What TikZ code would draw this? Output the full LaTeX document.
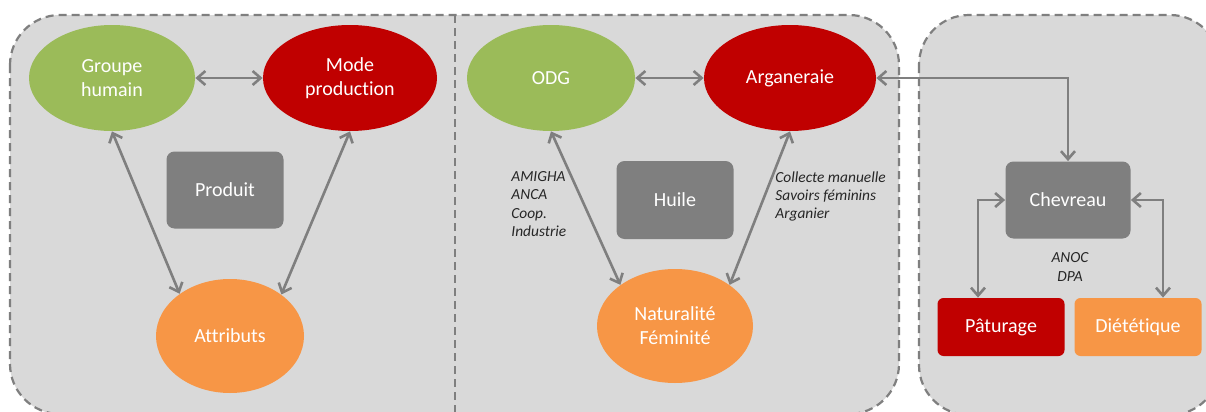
\documentclass[tikz,border=0pt]{standalone}
\usepackage{fontspec}
\setmainfont{Carlito}[Ligatures=NoCommon]
\usetikzlibrary{arrows.meta,shapes.geometric}
\definecolor{cgreen}{HTML}{9BBB59}
\definecolor{cred}{HTML}{C00000}
\definecolor{corange}{HTML}{F79646}
\definecolor{cgray}{HTML}{7F7F7F}
\definecolor{cbg}{HTML}{D9D9D9}
\definecolor{ctext}{HTML}{262626}
\tikzset{
  panel/.style={fill=cbg, draw=cgray, line width=1.1pt, dash pattern=on 4pt off 2.5pt, rounded corners=25pt},
  oval/.style={ellipse, inner sep=0pt, text=white, align=center, font=\fontsize{10}{12}\selectfont},
  boxnode/.style={rectangle, rounded corners=4pt, inner sep=0pt, text=white, align=center, font=\fontsize{10}{12}\selectfont},
  lab/.style={inner sep=0pt, text=ctext, align=left, font=\fontsize{7.7}{9.2}\selectfont\itshape},
  link/.style={draw=cgray, line width=1.3pt, {Straight Barb[length=4pt,width=7pt]}-{Straight Barb[length=4pt,width=7pt]}}
}
\begin{document}
\begin{tikzpicture}[x=0.5pt,y=-0.5pt]
\useasboundingbox (0,0) rectangle (1206,412);
\fill[white] (0,0) rectangle (1206,412);
% panels
\draw[panel] (10,15) rectangle (899,414);
\draw[panel] (919,15) rectangle (1220,415);
\draw[draw=cgray, line width=1.1pt, dash pattern=on 4pt off 2.5pt] (455,15) -- (455,412);
% left panel
\node[oval, fill=cgreen, minimum width=83pt, minimum height=53pt] (gh) at (112,78) {Groupe\\humain};
\node[oval, fill=cred, minimum width=87pt, minimum height=53pt] (mp) at (350,78) {Mode\\production};
\node[boxnode, fill=cgray, minimum width=58.5pt, minimum height=38.5pt] (pr) at (225,190) {Produit};
\node[oval, fill=corange, minimum width=74pt, minimum height=57pt] (at) at (230,336) {Attributs};
\draw[link] (gh.east) -- (mp.west);
\draw[link] (gh.south) -- (at.140);
\draw[link] (mp.south) -- (at.39);
% middle panel
\node[oval, fill=cgreen, minimum width=84pt, minimum height=53pt] (odg) at (551,78) {ODG};
\node[oval, fill=cred, minimum width=86pt, minimum height=53pt] (ar) at (790,78) {Arganeraie};
\node[boxnode, fill=cgray, minimum width=58.5pt, minimum height=39pt] (hu) at (675,200) {Huile};
\node[oval, fill=corange, minimum width=78pt, minimum height=57pt] (nf) at (675,326) {Naturalité\\Féminité};
\draw[link] (odg.east) -- (ar.west);
\draw[link] (odg.south) -- (nf.143);
\draw[link] (ar.south) -- (nf.37);
\node[lab, anchor=north west] (l1) at (511,171) {AMIGHA\\ANCA\\Coop.\\Industrie};
\node[lab, anchor=north west] (l2) at (775,171) {Collecte manuelle\\Savoirs féminins\\Arganier};
% right panel
\node[boxnode, fill=cgray, minimum width=62.5pt, minimum height=38.5pt] (ch) at (1068,200) {Chevreau};
\node[boxnode, rounded corners=3pt, fill=cred, minimum width=63.5pt, minimum height=29pt] (pa) at (1001,327) {Pâturage};
\node[boxnode, rounded corners=3pt, fill=corange, minimum width=63.5pt, minimum height=29pt] (di) at (1138,327) {Diététique};
\node[lab, align=center] (l3) at (1070,267) {ANOC\\DPA};
\draw[link] (ar.east) -| (ch.north);
\draw[link] (ch.west) -| ([xshift=-11.5pt]pa.north);
\draw[link] (ch.east) -| ([xshift=12.5pt]di.north);
\end{tikzpicture}
\end{document}
